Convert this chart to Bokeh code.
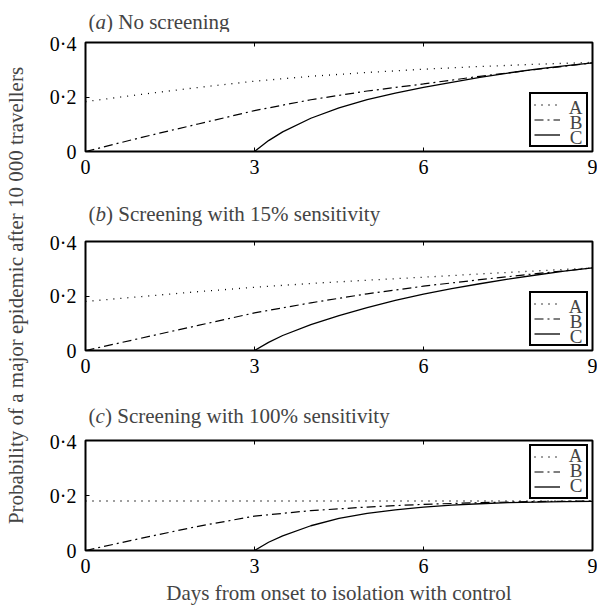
import math
from bokeh.plotting import figure
from bokeh.layouts import column, row
from bokeh.models import Range1d, Label, LinearAxis, FixedTicker, Legend, LegendItem
from bokeh.embed import file_html
from bokeh.resources import INLINE

# ---------------- data ----------------
x_ab = [0, 1, 2, 3, 4, 5, 6, 7, 8, 9]
x_c = [3, 3.25, 3.5, 4, 4.5, 5, 5.5, 6, 6.5, 7, 7.5, 8, 8.5, 9]

a_A = [0.183, 0.210, 0.235, 0.258, 0.276, 0.290, 0.302, 0.312, 0.320, 0.327]
a_B = [0.000, 0.052, 0.101, 0.150, 0.190, 0.222, 0.248, 0.276, 0.301, 0.325]
a_C = [0.000, 0.040, 0.072, 0.122, 0.160, 0.190, 0.214, 0.235, 0.254, 0.272,
       0.288, 0.302, 0.314, 0.325]

b_A = [0.180, 0.198, 0.216, 0.232, 0.246, 0.258, 0.269, 0.281, 0.292, 0.303]
b_B = [0.000, 0.046, 0.092, 0.138, 0.175, 0.208, 0.236, 0.260, 0.282, 0.303]
b_C = [0.000, 0.030, 0.055, 0.095, 0.128, 0.157, 0.184, 0.207, 0.227, 0.245,
       0.262, 0.277, 0.291, 0.303]

c_A = [0.180, 0.180, 0.180, 0.180, 0.180, 0.180, 0.180, 0.180, 0.180, 0.180]
c_B = [0.000, 0.045, 0.088, 0.125, 0.145, 0.158, 0.168, 0.174, 0.178, 0.180]
c_C = [0.000, 0.030, 0.053, 0.090, 0.117, 0.135, 0.148, 0.158, 0.165, 0.170,
       0.174, 0.176, 0.178, 0.179]

x_ticks = [0, 3, 6, 9]
x_tick_labels = ["0", "3", "6", "9"]
y_ticks = [0, 0.2, 0.4]
y_tick_labels = ["0", "0·2", "0·4"]
series_names = ["A", "B", "C"]

panel_letters = ["a", "b", "c"]
panel_titles = ["No screening", "Screening with 15% sensitivity",
                "Screening with 100% sensitivity"]
panel_data = [(a_A, a_B, a_C), (b_A, b_B, b_C), (c_A, c_B, c_C)]
legend_locs = ["bottom_right", "bottom_right", "top_right"]

FONT = "Liberation Serif"
TICK_FS = "20px"
TITLE_FS = "21px"

YL_W = 30          # width of the y-label strip
W = 567            # width of each panel figure
BL, BR = 55, 5     # left / right borders -> frame 85..592
FRAME_W = W - BL - BR
fig_heights = [148, 149, 177]
fig_bottoms = [29, 30, 57]
title_heights = [32, 51, 50]
title_baselines = [11, 18, 15]
letter_w = [10.5, 10.5, 9.5]


def title_fig(h, baseline, letter, text, lw):
    t = figure(width=W, height=h, output_backend="svg", toolbar_location=None,
               x_range=Range1d(0, FRAME_W), y_range=Range1d(0, h),
               x_axis_location=None, y_axis_location=None,
               min_border=0, min_border_left=BL, min_border_right=BR,
               min_border_top=0, min_border_bottom=0)
    t.outline_line_color = None
    t.xgrid.visible = False
    t.ygrid.visible = False
    x0 = 3
    t.add_layout(Label(x=x0, y=baseline, text="(", text_font=FONT,
                       text_font_size=TITLE_FS, text_baseline="alphabetic"))
    t.add_layout(Label(x=x0 + 7, y=baseline, text=letter, text_font=FONT,
                       text_font_size=TITLE_FS, text_font_style="italic",
                       text_baseline="alphabetic"))
    t.add_layout(Label(x=x0 + 7 + lw, y=baseline, text=") " + text, text_font=FONT,
                       text_font_size=TITLE_FS, text_baseline="alphabetic"))
    return t


items = []
for i in range(3):
    yA, yB, yC = panel_data[i]
    p = figure(width=W, height=fig_heights[i], output_backend="svg", toolbar_location=None,
               x_range=Range1d(0, 9), y_range=Range1d(0, 0.4),
               min_border_left=BL, min_border_right=BR,
               min_border_top=10, min_border_bottom=fig_bottoms[i])
    p.xgrid.visible = False
    p.ygrid.visible = False
    p.outline_line_color = "black"
    p.outline_line_width = 2
    p.background_fill_color = "white"
    p.border_fill_color = "white"

    bax = p.xaxis[0]
    lax = p.yaxis[0]
    for ax in (bax, lax):
        ax.axis_line_color = None
        ax.major_tick_in = 4
        ax.major_tick_out = 0
        ax.minor_tick_line_color = None
        ax.major_label_text_font = FONT
        ax.major_label_text_font_size = TICK_FS
        ax.major_label_text_color = "black"
        ax.major_tick_line_color = "black"
    bax.ticker = FixedTicker(ticks=x_ticks)
    bax.major_label_overrides = dict(zip(x_ticks, x_tick_labels))
    bax.major_label_standoff = 8
    lax.ticker = FixedTicker(ticks=y_ticks)
    lax.major_label_overrides = dict(zip(y_ticks, y_tick_labels))
    lax.major_label_standoff = 9

    top_ax = LinearAxis(ticker=FixedTicker(ticks=x_ticks), axis_line_color=None,
                        major_tick_in=4, major_tick_out=0, minor_tick_line_color=None,
                        major_label_overrides={t: "" for t in x_ticks},
                        major_label_text_font_size="1px", major_label_standoff=0,
                        major_tick_line_color="black")
    p.add_layout(top_ax, "above")

    if i == 2:
        bax.axis_label = "Days from onset to isolation with control"
        bax.axis_label_text_font = FONT
        bax.axis_label_text_font_size = TITLE_FS
        bax.axis_label_text_font_style = "normal"
        bax.axis_label_standoff = 5

    rA = p.line(x_ab, yA, line_color="black", line_width=1.3, line_dash="1 6")
    rB = p.line(x_ab, yB, line_color="black", line_width=1.2, line_dash="9 4 2 4")
    rC = p.line(x_c, yC, line_color="black", line_width=1.3)

    leg = Legend(items=[LegendItem(label="", renderers=[rA]),
                        LegendItem(label="", renderers=[rB]),
                        LegendItem(label="", renderers=[rC])],
                 location=legend_locs[i], margin=4, padding=3, spacing=0,
                 glyph_width=26, glyph_height=15, label_height=15, label_width=18,
                 label_standoff=5, border_line_color="black", border_line_width=2,
                 border_line_alpha=1.0,
                 label_text_font=FONT, label_text_font_size="11px",
                 background_fill_alpha=0.0)
    p.add_layout(leg, "center")

    # legend letters (screen offsets: positive y_offset moves up)
    if legend_locs[i] == "bottom_right":
        anchor_y = 0
        offs = [44.5, 29.5, 14.5]
    else:
        anchor_y = 0.4
        offs = [-14.5, -29.5, -44.5]
    for name, off in zip(series_names, offs):
        p.add_layout(Label(x=9, y=anchor_y, x_offset=-10, y_offset=off, text=name,
                           text_font=FONT, text_font_size="19px", level="overlay",
                           text_align="right", text_baseline="middle"))

    items.append(title_fig(title_heights[i], title_baselines[i], panel_letters[i],
                           panel_titles[i], letter_w[i]))
    items.append(p)

total_h = sum(fig_heights) + sum(title_heights)
yl = figure(width=YL_W, height=total_h, output_backend="svg", toolbar_location=None,
            x_range=Range1d(0, YL_W), y_range=Range1d(0, total_h),
            x_axis_location=None, y_axis_location=None,
            min_border=0, min_border_left=0, min_border_right=0,
            min_border_top=0, min_border_bottom=0)
yl.outline_line_color = None
yl.xgrid.visible = False
yl.ygrid.visible = False
yl.add_layout(Label(x=15, y=total_h - 295, angle=math.pi / 2,
                    text="Probability of a major epidemic after 10 000 travellers",
                    text_font=FONT, text_font_size=TITLE_FS,
                    text_align="center", text_baseline="middle"))

layout = row(yl, column(*items, spacing=0), spacing=0)

open("out.html", "w").write(file_html(layout, INLINE))
